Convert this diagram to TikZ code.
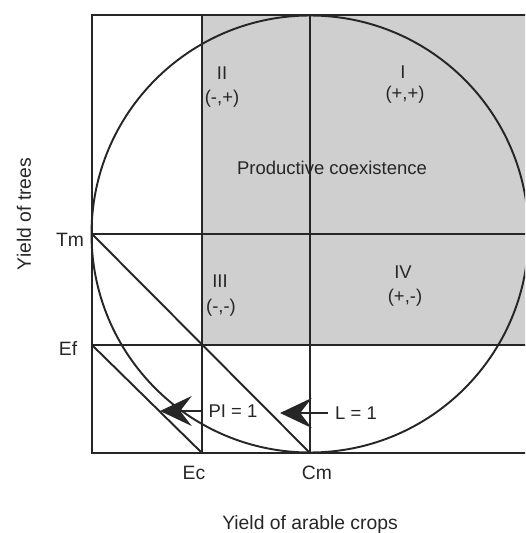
\documentclass[tikz,border=0pt]{standalone}
\usepackage{fontspec}
\setmainfont{Liberation Sans}
\usetikzlibrary{arrows.meta}
\definecolor{ZoneGray}{HTML}{CFCFCF}
\definecolor{LineDark}{HTML}{262626}

\begin{document}
\begin{tikzpicture}[
  x=0.02cm,y=-0.02cm,
  frame/.style={line width=1.1pt,color=LineDark},
  zone/.style={fill=ZoneGray},
  lbl/.style={font=\fontsize{10.5}{12}\selectfont,inner sep=1pt,text=LineDark},
  axis/.style={font=\fontsize{11}{13}\selectfont,text=LineDark},
  pointer/.style={-{Stealth[length=18pt,width=17pt,inset=6.5pt]},line width=1.1pt,color=LineDark}
]
\useasboundingbox (0,0) rectangle (525,533);
\clip (0,0) rectangle (525,533);
\coordinate (Tm) at (92,234);
\coordinate (Ef) at (92,345);
\coordinate (Ec) at (202,453);
\coordinate (Cm) at (310,453);
\coordinate (Mid) at (202,345);
\coordinate (Centre) at (310,234);
% shaded quadrants
\fill[zone] (202,15) rectangle (540,345);
% frame and grid
\draw[frame] (540,15) -- (92,15) -- (92,453) -- (540,453);
\draw[frame] (Tm) -- (540,234);
\draw[frame] (Ef) -- (540,345);
\draw[frame] (202,15) -- (Ec);
\draw[frame] (310,15) -- (Cm);
\draw[frame] (Tm) -- (Cm);
\draw[frame] (Ef) -- (Ec);
\draw[frame] (Centre) circle[radius=218.5];
% quadrant labels
\node[lbl] (q2) at (222,73) {II};
\node[lbl] (q2s) at (222,99) {(-,+)};
\node[lbl] (q1) at (403,72) {I};
\node[lbl] (q1s) at (405,95) {(+,+)};
\node[lbl] (prod) at (332,168) {Productive coexistence};
\node[lbl] (q3) at (220,281) {III};
\node[lbl] (q3s) at (221,308) {(-,-)};
\node[lbl] (q4) at (403,272) {IV};
\node[lbl] (q4s) at (405,298) {(+,-)};
% axis marks
\node[axis] (tm) at (70,240) {Tm};
\node[axis] (ef) at (68,349) {Ef};
\node[axis] (ec) at (194,473) {Ec};
\node[axis] (cm) at (317,473) {Cm};
\node[axis,rotate=90] (ytitle) at (24,214) {Yield of trees};
\node[axis] (xtitle) at (310,524) {Yield of arable crops};
% pointers
\node[lbl,inner sep=4pt] (pi) at (233,411) {PI = 1};
\coordinate (piTip) at (160,411);
\draw[pointer] (pi.west) -- (piTip);
\node[lbl,inner sep=4pt] (lone) at (356,413) {L = 1};
\coordinate (lTip) at (280,413);
\draw[pointer] (lone.west) -- (lTip);
\end{tikzpicture}
\end{document}
